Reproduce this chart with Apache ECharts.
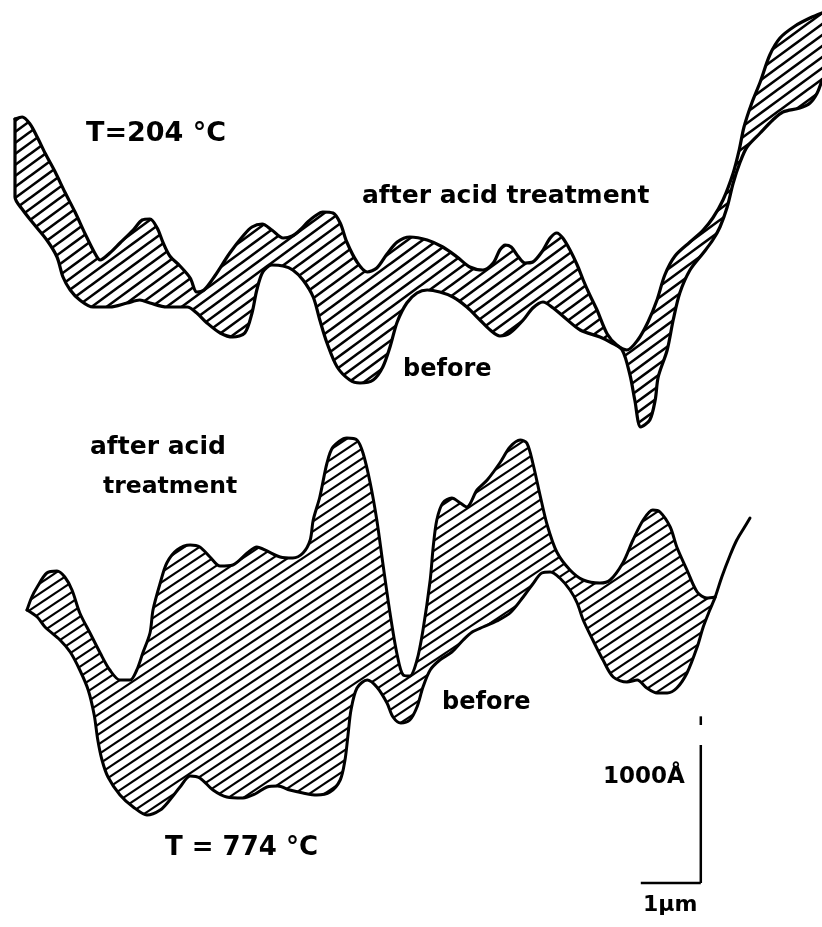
<!DOCTYPE html>
<html>
<head>
<meta charset="utf-8">
<script src="https://cdn.jsdelivr.net/npm/echarts/dist/echarts.min.js"></script>
<style>html,body{margin:0;padding:0;background:#fff}#chart{width:822px;height:927px}</style>
</head>
<body>
<div id="chart"></div>
<script>
// Surface profiles. x: lateral position (µm), y: height (Å, arbitrary zero)
const topAfter = [[0.25,4848],[0.37,4860],[0.5,4818],[0.62,4740],[0.75,4644],[0.92,4530],[1.08,4410],[1.25,4290],[1.42,4158],[1.57,4050],[1.67,4002],[1.83,4044],[2.0,4104],[2.22,4182],[2.37,4242],[2.5,4248],[2.62,4194],[2.72,4104],[2.83,4026],[3.0,3966],[3.17,3894],[3.28,3810],[3.4,3822],[3.58,3906],[3.83,4044],[4.05,4146],[4.2,4200],[4.37,4218],[4.53,4182],[4.72,4134],[4.87,4146],[5.0,4182],[5.13,4230],[5.25,4266],[5.38,4290],[5.55,4284],[5.67,4224],[5.78,4110],[5.95,3990],[6.12,3930],[6.28,3954],[6.45,4038],[6.62,4110],[6.83,4140],[7.12,4122],[7.38,4080],[7.62,4020],[7.83,3960],[8.05,3942],[8.22,3984],[8.33,4062],[8.42,4092],[8.52,4080],[8.63,4026],[8.75,3984],[8.88,3990],[9.03,4050],[9.17,4134],[9.28,4164],[9.38,4134],[9.5,4062],[9.62,3972],[9.72,3882],[9.83,3792],[9.95,3702],[10.12,3558],[10.28,3492],[10.45,3462],[10.63,3522],[10.8,3630],[10.95,3762],[11.08,3912],[11.25,4026],[11.5,4110],[11.72,4182],[11.88,4254],[12.05,4362],[12.22,4524],[12.32,4662],[12.4,4800],[12.53,4944],[12.67,5070],[12.83,5232],[13.0,5334],[13.25,5406],[13.5,5454],[13.7,5484]];
const topBefore = [[0.25,4848],[0.25,4602],[0.25,4380],[0.38,4302],[0.55,4224],[0.78,4122],[0.95,4020],[1.05,3900],[1.17,3822],[1.33,3762],[1.55,3720],[1.83,3720],[2.12,3744],[2.33,3762],[2.5,3744],[2.78,3720],[3.12,3720],[3.28,3684],[3.45,3624],[3.67,3564],[3.88,3540],[4.08,3564],[4.2,3684],[4.28,3822],[4.38,3930],[4.53,3972],[4.72,3966],[4.88,3942],[5.05,3882],[5.22,3780],[5.33,3642],[5.45,3504],[5.62,3360],[5.83,3282],[6.0,3264],[6.22,3282],[6.38,3360],[6.5,3480],[6.62,3630],[6.78,3744],[6.95,3804],[7.12,3822],[7.33,3810],[7.55,3780],[7.78,3720],[8.0,3642],[8.17,3582],[8.33,3546],[8.5,3564],[8.72,3642],[8.88,3714],[9.05,3750],[9.22,3714],[9.38,3666],[9.67,3582],[10.0,3540],[10.2,3504],[10.37,3462],[10.5,3312],[10.58,3162],[10.68,3000],[10.83,3042],[10.92,3162],[10.97,3300],[11.12,3462],[11.22,3642],[11.33,3804],[11.5,3942],[11.72,4044],[11.88,4122],[12.0,4200],[12.12,4320],[12.22,4464],[12.33,4584],[12.45,4680],[12.67,4764],[12.88,4842],[13.05,4890],[13.33,4914],[13.5,4944],[13.62,5004],[13.7,5082]];
const bottomAfter = [[0.45,1902],[0.53,1980],[0.62,2040],[0.78,2124],[0.95,2136],[1.08,2100],[1.2,2022],[1.33,1884],[1.5,1764],[1.67,1644],[1.83,1542],[2.0,1482],[2.17,1482],[2.28,1542],[2.38,1644],[2.5,1764],[2.55,1902],[2.67,2064],[2.78,2184],[2.95,2262],[3.17,2292],[3.33,2280],[3.5,2220],[3.67,2166],[3.88,2172],[4.12,2244],[4.28,2280],[4.45,2256],[4.67,2220],[4.88,2214],[5.05,2244],[5.17,2322],[5.22,2442],[5.33,2580],[5.45,2784],[5.55,2880],[5.78,2934],[5.95,2922],[6.05,2844],[6.17,2664],[6.28,2442],[6.38,2184],[6.5,1884],[6.62,1632],[6.72,1512],[6.83,1506],[6.95,1602],[7.05,1782],[7.17,2082],[7.22,2280],[7.28,2442],[7.38,2544],[7.53,2574],[7.67,2544],[7.78,2520],[7.95,2622],[8.12,2682],[8.33,2784],[8.5,2880],[8.67,2922],[8.78,2904],[8.88,2784],[9.0,2592],[9.12,2412],[9.28,2250],[9.5,2142],[9.72,2082],[10.0,2064],[10.17,2082],[10.38,2184],[10.55,2322],[10.72,2442],[10.88,2502],[11.0,2490],[11.17,2400],[11.28,2280],[11.45,2142],[11.62,2010],[11.78,1974],[11.92,1980]];
const bottomBefore = [[0.45,1902],[0.62,1860],[0.75,1800],[1.0,1722],[1.17,1650],[1.33,1542],[1.47,1422],[1.57,1272],[1.63,1122],[1.7,1002],[1.8,900],[2.0,792],[2.22,720],[2.45,672],[2.67,702],[2.83,762],[3.0,840],[3.17,906],[3.33,894],[3.55,822],[3.78,780],[4.05,774],[4.25,798],[4.45,840],[4.63,846],[4.83,822],[5.05,804],[5.28,792],[5.5,810],[5.67,882],[5.75,1002],[5.8,1152],[5.85,1302],[5.95,1434],[6.12,1482],[6.28,1440],[6.45,1344],[6.55,1260],[6.68,1224],[6.83,1242],[6.95,1320],[7.05,1440],[7.17,1542],[7.33,1602],[7.53,1650],[7.72,1722],[7.87,1770],[8.05,1800],[8.28,1836],[8.5,1884],[8.72,1980],[8.88,2058],[9.03,2124],[9.17,2130],[9.33,2094],[9.5,2022],[9.62,1944],[9.72,1842],[9.88,1722],[10.05,1602],[10.22,1500],[10.45,1470],[10.62,1482],[10.78,1434],[10.95,1404],[11.12,1404],[11.28,1434],[11.45,1524],[11.62,1680],[11.72,1800],[11.83,1902],[11.92,1980],[12.03,2100],[12.17,2232],[12.28,2322],[12.4,2394],[12.5,2454]];
// Scale bar: 1 µm horizontal, 1000 Å vertical
const scaleBarH = [[10.68,264],[11.68,264]];
const scaleBarV = [[11.68,264],[11.68,1092]];
const scaleBarVTop = [[11.68,1212],[11.68,1264]];
const labelTexts = ['T=204 °C','after acid treatment','before','after acid','treatment','before','T = 774 °C','1000Å','1µm'];

function hatch(w, h, lw) {
  const c = document.createElement('canvas');
  c.width = w; c.height = h;
  const g = c.getContext('2d');
  g.strokeStyle = '#000'; g.lineWidth = lw; g.lineCap = 'butt';
  for (let j = 0; j <= 4; j++) {
    const cc = h * j / 2;
    g.beginPath(); g.moveTo(-2, cc + 2 * h / w); g.lineTo(w + 2, cc - h - 2 * h / w); g.stroke();
  }
  return c;
}
const topPattern = hatch(30, 22, 2.6);
const botPattern = hatch(30, 20, 2.2);

const topPoly = topAfter.concat(topBefore.slice().reverse());
const cut = bottomBefore.findIndex(p => p[0] >= 11.92);
const botPoly = bottomAfter.concat(bottomBefore.slice(0, cut + 1).reverse());

function areaSeries(poly, pattern) {
  return {
    type: 'custom', silent: true, z: 1,
    data: poly,
    renderItem: function (params, api) {
      if (params.dataIndex !== 0) return null;
      return {
        type: 'polygon',
        shape: { points: poly.map(p => api.coord(p)), smooth: 0.25 },
        style: { fill: { image: pattern, repeat: 'repeat' }, stroke: null }
      };
    }
  };
}
function lineSeries(data, w) {
  return {
    type: 'line', data: data, symbol: 'none', smooth: 0.3, z: 3, silent: true,
    lineStyle: { color: '#000', width: w, cap: 'round', join: 'round' }
  };
}
function straight(data, w) {
  return {
    type: 'line', data: data, symbol: 'none', z: 3, silent: true,
    lineStyle: { color: '#000', width: w, cap: 'butt' }
  };
}

const chart = echarts.init(document.getElementById('chart'), null, { renderer: 'canvas' });
const font = '"DejaVu Sans", "Liberation Sans", sans-serif';
function txt(i, x, y, size) {
  return { type: 'text', x: x, y: y, z: 10,
    style: { text: labelTexts[i], fill: '#000', fontSize: size, fontWeight: 'bold', fontFamily: font,
      align: 'left', verticalAlign: 'middle' } };
}
chart.setOption({
  animation: false,
  backgroundColor: '#fff',
  grid: { left: 0, right: 0, top: 0, bottom: 0 },
  xAxis: { type: 'value', min: 0, max: 13.7, show: false },
  yAxis: { type: 'value', min: 0, max: 5562, show: false },
  series: [
    areaSeries(topPoly, topPattern),
    areaSeries(botPoly, botPattern),
    lineSeries(topAfter, 3.2),
    lineSeries(topBefore, 3.2),
    lineSeries(bottomAfter, 3),
    lineSeries(bottomBefore, 3),
    straight(scaleBarH, 2.5),
    straight(scaleBarV, 2.5),
    straight(scaleBarVTop, 2.5)
  ],
  graphic: [
    txt(0, 86, 134, 27),
    txt(1, 362, 196, 25),
    txt(2, 403, 370, 24),
    txt(3, 90, 447, 25),
    txt(4, 103, 487, 23.5),
    txt(5, 442, 703, 24),
    txt(6, 165, 848, 26),
    txt(7, 603, 777, 23),
    txt(8, 643, 905, 22)
  ]
});
</script>
</body>
</html>
